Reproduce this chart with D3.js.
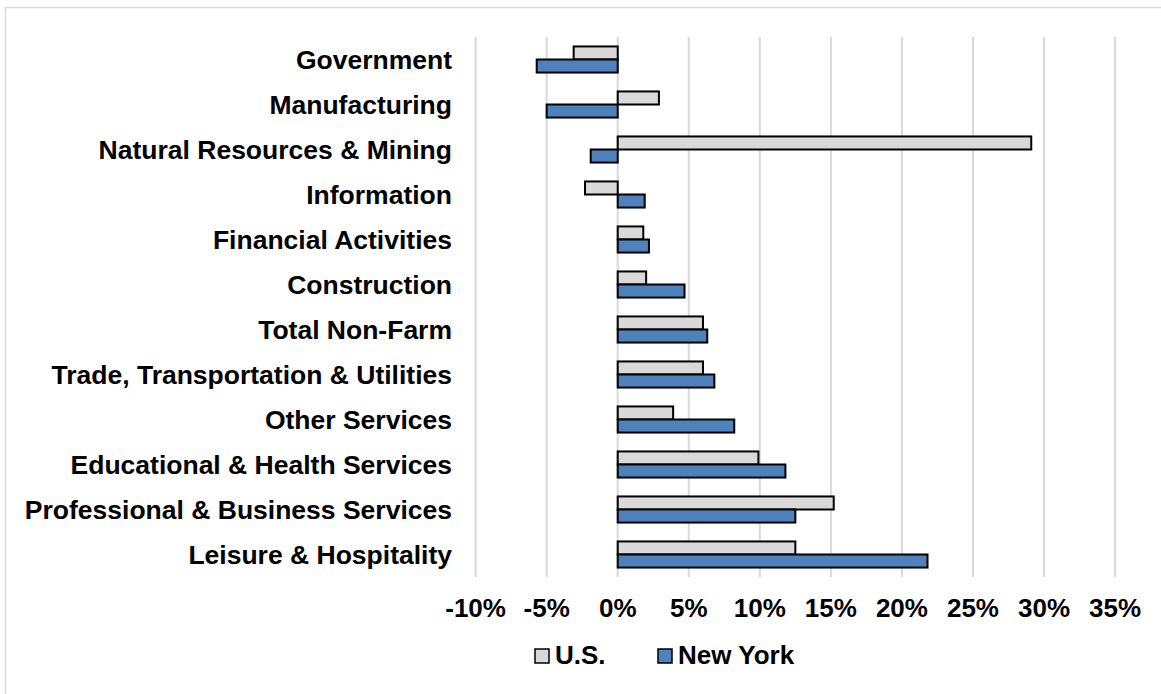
<!DOCTYPE html>
<html>
<head>
<meta charset="utf-8">
<script src="https://cdn.jsdelivr.net/npm/d3@7"></script>
<style>
  body { margin: 0; background: #fff; }
  svg { display: block; font-family: "Liberation Sans", Arial, sans-serif; }
</style>
</head>
<body>
<div class="chart"></div>
<script>
// categories, top to bottom
var categories = ["Government", "Manufacturing", "Natural Resources & Mining", "Information",
  "Financial Activities", "Construction", "Total Non-Farm", "Trade, Transportation & Utilities",
  "Other Services", "Educational & Health Services", "Professional & Business Services",
  "Leisure & Hospitality"];
var seriesNames = ["U.S.", "New York"];
var usValues = [-3.1, 2.9, 29.1, -2.3, 1.8, 2.0, 6.0, 6.0, 3.9, 9.9, 15.2, 12.5];
var nyValues = [-5.7, -5.0, -1.9, 1.9, 2.2, 4.7, 6.3, 6.8, 8.2, 11.8, 12.5, 21.8];
var xTicks = [-10, -5, 0, 5, 10, 15, 20, 25, 30, 35];

(function(){
  var W = 1161, H = 694;
  var colors = {"U.S.": "#d9d9d9", "New York": "#4f81bd"};

  var svg = d3.select(".chart").append("svg")
    .attr("width", W).attr("height", H);

  // outer frame (only top/left visible)
  svg.append("rect")
    .attr("x", 5.5).attr("y", 7.5)
    .attr("width", 1300).attr("height", 900)
    .attr("fill", "none").attr("stroke", "#d9d9d9").attr("stroke-width", 1.5);

  var x = d3.scaleLinear().domain([-10, 35]).range([475.6, 1115.1]);
  var y = d3.scaleBand().domain(categories).range([37, 577])
    .paddingInner(0.42).paddingOuter(0.21);
  var sub = d3.scaleBand().domain(seriesNames).range([0, y.bandwidth()]);

  // gridlines
  svg.append("g").selectAll("line")
    .data(xTicks).enter().append("line")
    .attr("x1", function(d){ return x(d); })
    .attr("x2", function(d){ return x(d); })
    .attr("y1", 37).attr("y2", 577)
    .attr("stroke", "#d9d9d9").attr("stroke-width", 2);

  var rows = categories.map(function(c, i){
    return {cat: c, vals: [{s: "U.S.", v: usValues[i]}, {s: "New York", v: nyValues[i]}]};
  });

  var g = svg.append("g").selectAll("g")
    .data(rows).enter().append("g")
    .attr("transform", function(d){ return "translate(0," + y(d.cat) + ")"; });

  g.selectAll("rect")
    .data(function(d){ return d.vals; }).enter().append("rect")
    .attr("x", function(d){ return x(Math.min(0, d.v)); })
    .attr("y", function(d){ return sub(d.s); })
    .attr("width", function(d){ return Math.abs(x(d.v) - x(0)); })
    .attr("height", sub.bandwidth())
    .attr("fill", function(d){ return colors[d.s]; })
    .attr("stroke", "#000").attr("stroke-width", 2);

  // category labels
  svg.append("g").selectAll("text")
    .data(categories).enter().append("text")
    .attr("x", 452)
    .attr("y", function(d){ return y(d) + y.bandwidth() / 2 + 9.5; })
    .attr("text-anchor", "end")
    .attr("font-size", 26.5).attr("font-weight", "bold")
    .text(function(d){ return d; });

  // x tick labels
  svg.append("g").selectAll("text")
    .data(xTicks).enter().append("text")
    .attr("x", function(d){ return x(d); })
    .attr("y", 617)
    .attr("text-anchor", "middle")
    .attr("font-size", 26).attr("font-weight", "bold")
    .text(function(d){ return d + "%"; });

  // legend
  var legX = [535, 658];
  var leg = svg.append("g").selectAll("g")
    .data(seriesNames).enter().append("g")
    .attr("transform", function(d, i){ return "translate(" + legX[i] + ",649)"; });
  leg.append("rect")
    .attr("width", 14).attr("height", 14)
    .attr("fill", function(d){ return colors[d]; })
    .attr("stroke", "#000").attr("stroke-width", 1.5);
  leg.append("text")
    .attr("x", 20).attr("y", 15)
    .attr("font-size", 26).attr("font-weight", "bold")
    .text(function(d){ return d; });
})()
</script>
</body>
</html>
